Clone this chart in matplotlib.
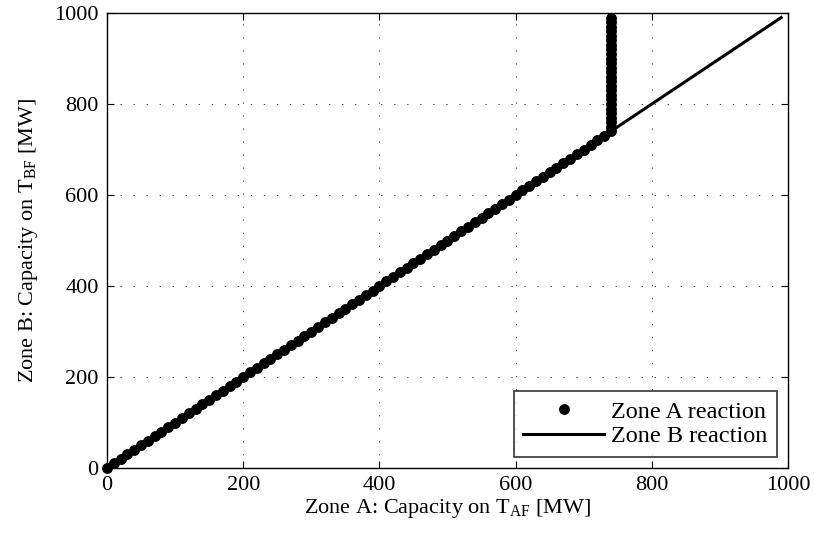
import matplotlib
matplotlib.use("Agg")
import matplotlib.pyplot as plt

plt.rcParams['font.family'] = ['Liberation Serif', 'DejaVu Serif']
plt.rcParams['font.size'] = 16
plt.rcParams['mathtext.fontset'] = 'custom'
plt.rcParams['mathtext.rm'] = 'Liberation Serif'
plt.rcParams['mathtext.it'] = 'Liberation Serif:italic'

# Zone A reaction (dots): diagonal up to 740, then vertical at 740
zone_a_x = [0, 10, 20, 30, 40, 50, 60, 70, 80, 90,
            100, 110, 120, 130, 140, 150, 160, 170, 180, 190,
            200, 210, 220, 230, 240, 250, 260, 270, 280, 290,
            300, 310, 320, 330, 340, 350, 360, 370, 380, 390,
            400, 410, 420, 430, 440, 450, 460, 470, 480, 490,
            500, 510, 520, 530, 540, 550, 560, 570, 580, 590,
            600, 610, 620, 630, 640, 650, 660, 670, 680, 690,
            700, 710, 720, 730, 740,
            740, 740, 740, 740, 740, 740, 740, 740, 740, 740,
            740, 740, 740, 740, 740, 740, 740, 740, 740, 740,
            740, 740, 740, 740, 740]
zone_a_y = [0, 10, 20, 30, 40, 50, 60, 70, 80, 90,
            100, 110, 120, 130, 140, 150, 160, 170, 180, 190,
            200, 210, 220, 230, 240, 250, 260, 270, 280, 290,
            300, 310, 320, 330, 340, 350, 360, 370, 380, 390,
            400, 410, 420, 430, 440, 450, 460, 470, 480, 490,
            500, 510, 520, 530, 540, 550, 560, 570, 580, 590,
            600, 610, 620, 630, 640, 650, 660, 670, 680, 690,
            700, 710, 720, 730, 740,
            750, 760, 770, 780, 790, 800, 810, 820, 830, 840,
            850, 860, 870, 880, 890, 900, 910, 920, 930, 940,
            950, 960, 970, 980, 990]

# Zone B reaction (line)
zone_b_x = [0, 990]
zone_b_y = [0, 990]

ticks = [0, 200, 400, 600, 800, 1000]

fig = plt.figure(figsize=(8.14, 5.40), dpi=100)
ax = fig.add_axes([107 / 814, 72 / 540, 681 / 814, 455 / 540])

ax.plot(zone_a_x, zone_a_y, linestyle='none', marker='o', markersize=6.8,
        color='black', label='Zone A reaction', zorder=3, clip_on=False)
ax.plot(zone_b_x, zone_b_y, color='black', linewidth=2.2,
        label='Zone B reaction', zorder=4)

ax.set_xlim(0, 1000)
ax.set_ylim(0, 1000)
ax.set_xticks(ticks)
ax.set_yticks(ticks)

ax.grid(True, color='0.3', linestyle=(0, (1.4, 12)), linewidth=0.7)
ax.tick_params(direction='in', length=5, width=0.8, top=True, right=True,
               labelsize=16, pad=6)
for s in ax.spines.values():
    s.set_linewidth(1.0)

ax.set_xlabel(r'Zone A: Capacity on T$_{\mathrm{AF}}$ [MW]', fontsize=16, labelpad=1)
ax.set_ylabel(r'Zone B: Capacity on T$_{\mathrm{BF}}$ [MW]', fontsize=16, labelpad=10)

leg = ax.legend(loc='lower right', fontsize=17.5, frameon=True, fancybox=False,
                edgecolor='black', handlelength=3.3, borderpad=0.4,
                labelspacing=0.1, handletextpad=0.3, borderaxespad=0.45)
leg.get_frame().set_linewidth(1.2)

fig.savefig('out.png', dpi=100)
